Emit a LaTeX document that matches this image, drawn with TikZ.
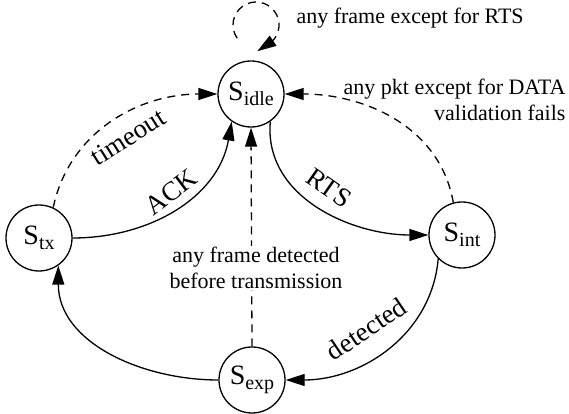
\documentclass[tikz,border=0pt]{standalone}
\usepackage{fontspec}
\setmainfont{Liberation Serif}
\usetikzlibrary{arrows.meta}
\newcommand{\stname}[1]{{\fontsize{28}{28}\selectfont S}\raisebox{-5pt}{\fontsize{20}{20}\selectfont #1}}
\begin{document}
\begin{tikzpicture}[x=1pt,y=1pt,
  state/.style={circle,draw,line width=1.3pt,minimum size=66pt,inner sep=0pt},
  arr/.style={line width=1.3pt,-{Triangle[length=19pt,width=12pt]}},
  dsh/.style={dash pattern=on 8pt off 6pt},
  lbl/.style={font=\fontsize{22}{26}\selectfont},
  elbl/.style={font=\fontsize{27}{30}\selectfont,inner sep=0pt}]
\useasboundingbox (0,0) rectangle (569,414);
\node[state] (idle) at (251,320) {\stname{idle}};
\node[state] (tx) at (39,176) {\stname{tx}};
\node[state] (int) at (462,179) {\stname{int}};
\node[state] (exp) at (252,34) {\stname{exp}};
% self loop
\coordinate (lc) at (256,389);
\draw[arr,dsh] (lc) ++(215:23) arc[start angle=215,end angle=-45,radius=23] -- ++(-15,-10);
\node[lbl,anchor=west] (l1) at (293,396) {any frame except for RTS};
% timeout
\draw[arr,dsh] (tx.65) to[out=78,in=180] (idle.west);
\node[elbl,rotate=32] (lt) at (128,277) {timeout};
% ACK
\draw[arr] (tx.east) to[out=0,in=-100] (idle.235);
\node[elbl,rotate=37] (la) at (171,222) {ACK};
% RTS
\draw[arr] (idle.-55) to[out=-95,in=180] (int.west);
\node[elbl,rotate=-35] (lr) at (329,226) {RTS};
% invalid
\draw[arr,dsh] (int.105) to[out=100,in=0] (idle.east);
\node[lbl,align=right,anchor=east] (l2) at (569,314) {any pkt except for DATA\\validation fails};
% vertical
\draw[arr,dsh] (exp.north) -- (idle.south);
\node[lbl,align=center,fill=white,inner sep=1pt] (l3) at (256,146) {any frame detected\\before transmission};
% detected
\draw[arr] (int.225) to[out=-95,in=0] (exp.east);
\node[elbl,rotate=34] (ld) at (366,85) {detected};
% exp to tx
\draw[arr] (exp.west) to[out=180,in=-90] (tx.-55);
\end{tikzpicture}
\end{document}
